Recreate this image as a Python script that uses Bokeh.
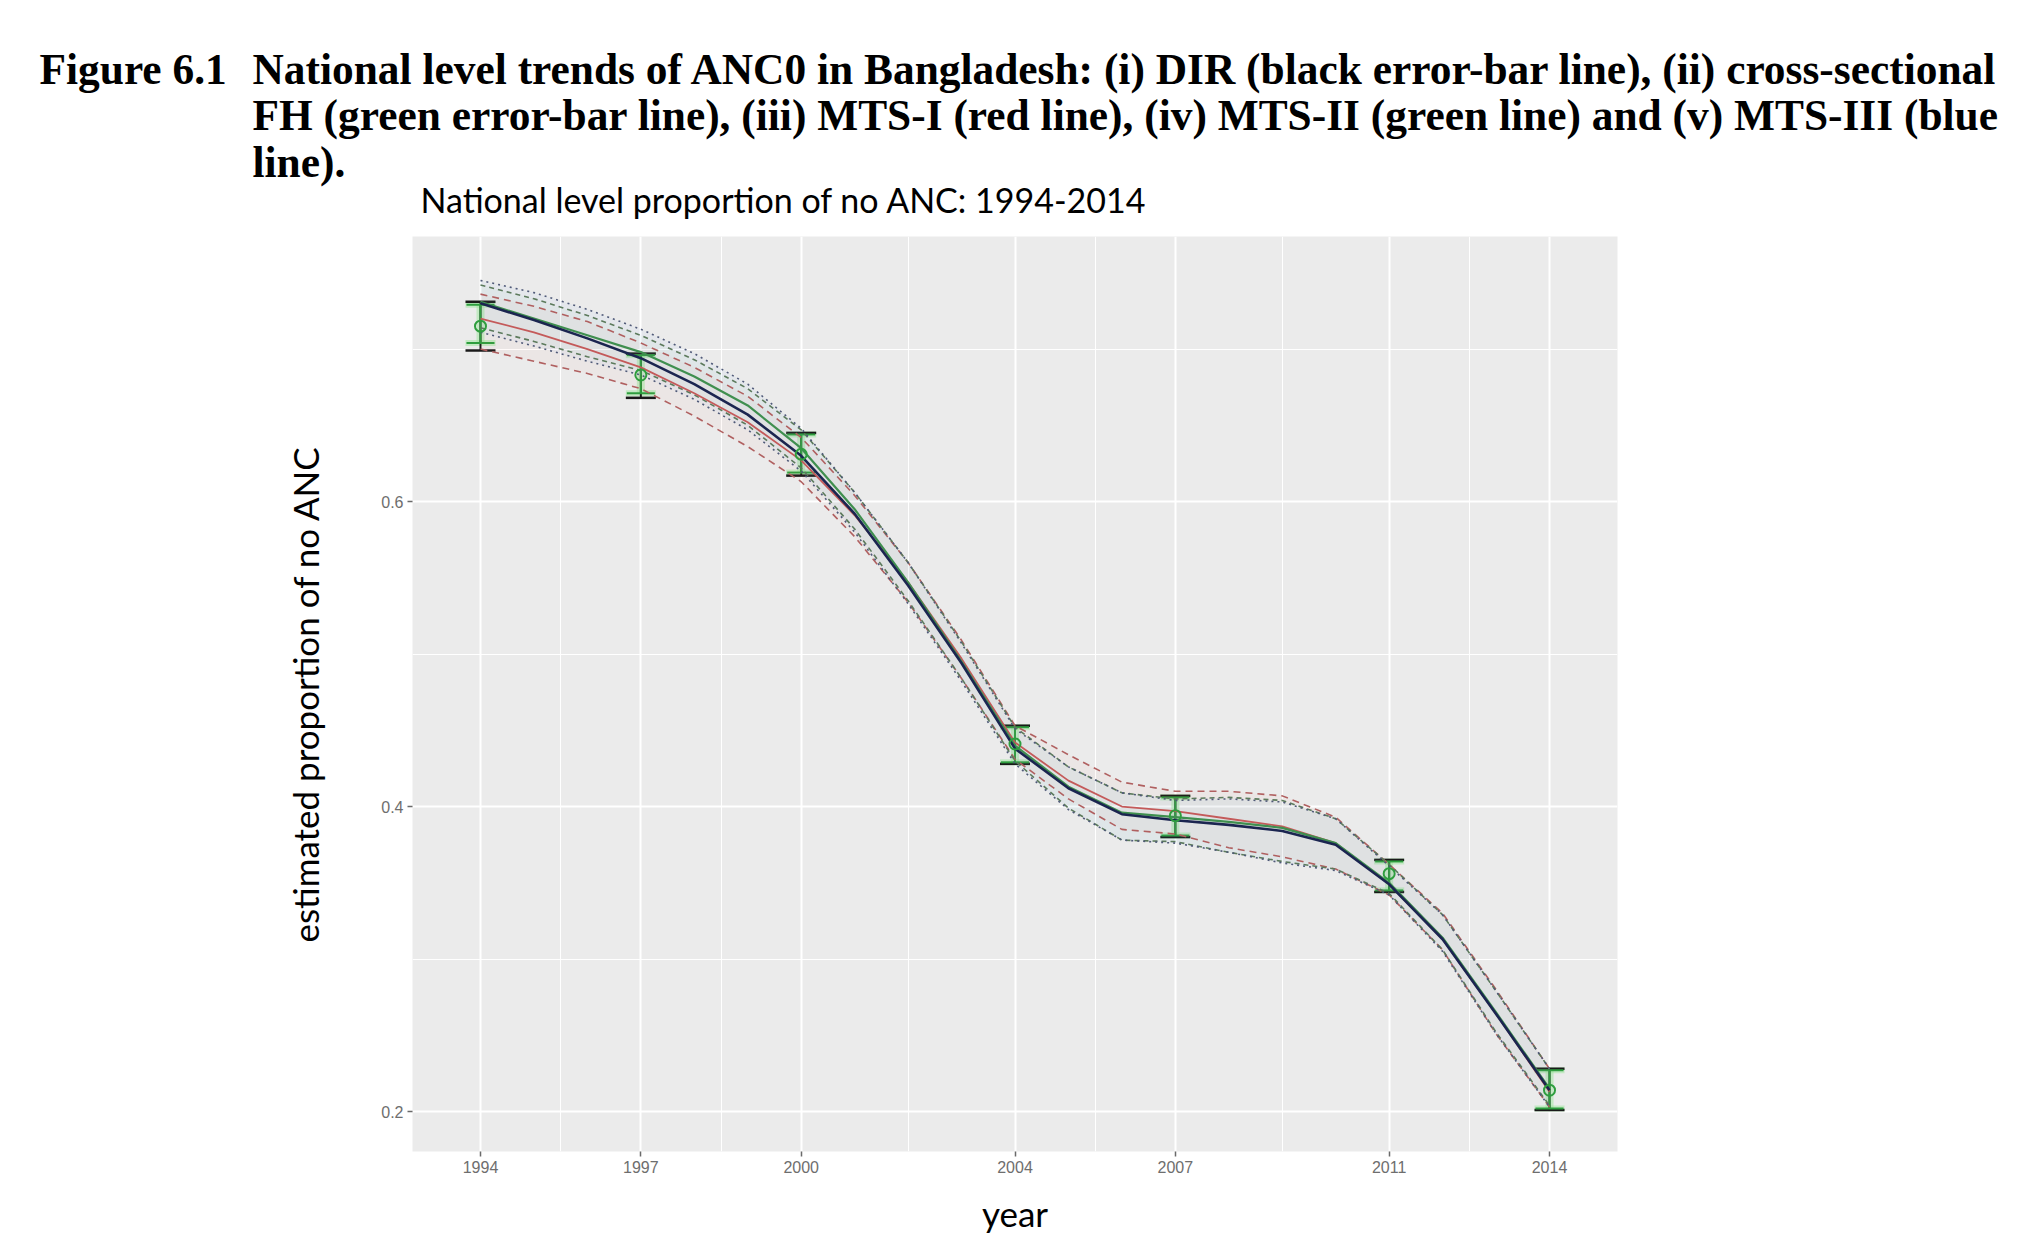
from bokeh.plotting import figure
from bokeh.layouts import column
from bokeh.models import Range1d, FixedTicker, Whisker, ColumnDataSource, Label, TeeHead
from bokeh.embed import file_html
from bokeh.resources import INLINE

# ---------------- data ----------------
years = list(range(1994, 2015))

mts1_mean = [0.720, 0.711, 0.700, 0.688, 0.671, 0.652, 0.627, 0.591, 0.547, 0.497, 0.442,
             0.417, 0.400, 0.397, 0.392, 0.387, 0.376, 0.349, 0.313, 0.264, 0.213]
mts1_lower = [0.700, 0.692, 0.684, 0.674, 0.656, 0.636, 0.613, 0.577, 0.534, 0.484, 0.431,
              0.405, 0.385, 0.382, 0.373, 0.367, 0.359, 0.342, 0.306, 0.251, 0.203]
mts1_upper = [0.736, 0.728, 0.718, 0.704, 0.688, 0.669, 0.642, 0.604, 0.560, 0.509, 0.453,
              0.434, 0.416, 0.410, 0.410, 0.407, 0.393, 0.362, 0.330, 0.280, 0.228]

mts2_mean = [0.731, 0.720, 0.709, 0.698, 0.682, 0.663, 0.635, 0.595, 0.547, 0.495, 0.440,
             0.413, 0.396, 0.393, 0.390, 0.386, 0.376, 0.350, 0.314, 0.265, 0.215]
mts2_lower = [0.714, 0.705, 0.695, 0.686, 0.670, 0.650, 0.622, 0.582, 0.535, 0.484, 0.430,
              0.399, 0.378, 0.377, 0.370, 0.364, 0.359, 0.343, 0.306, 0.252, 0.204]
mts2_upper = [0.742, 0.733, 0.722, 0.709, 0.693, 0.674, 0.647, 0.606, 0.560, 0.508, 0.452,
              0.426, 0.409, 0.405, 0.406, 0.404, 0.392, 0.362, 0.329, 0.279, 0.228]

mts3_mean = [0.730, 0.719, 0.707, 0.694, 0.677, 0.657, 0.630, 0.592, 0.545, 0.494, 0.438,
             0.412, 0.395, 0.391, 0.388, 0.384, 0.375, 0.349, 0.313, 0.264, 0.214]
mts3_lower = [0.711, 0.702, 0.692, 0.683, 0.667, 0.647, 0.620, 0.580, 0.533, 0.482, 0.428,
              0.398, 0.378, 0.376, 0.370, 0.363, 0.358, 0.342, 0.305, 0.251, 0.203]
mts3_upper = [0.745, 0.737, 0.726, 0.713, 0.697, 0.677, 0.648, 0.606, 0.560, 0.507, 0.451,
              0.426, 0.409, 0.404, 0.405, 0.403, 0.392, 0.361, 0.329, 0.279, 0.228]

survey_years = [1994, 1997, 2000, 2004, 2007, 2011, 2014]
dir_lower = [0.699, 0.668, 0.617, 0.428, 0.380, 0.344, 0.201]
dir_upper = [0.731, 0.697, 0.645, 0.453, 0.407, 0.365, 0.228]
fh_est = [0.715, 0.683, 0.631, 0.441, 0.394, 0.356, 0.214]
fh_lower = [0.704, 0.671, 0.619, 0.429, 0.381, 0.345, 0.202]
fh_upper = [0.729, 0.696, 0.644, 0.452, 0.406, 0.364, 0.227]

x_ticks = [1994, 1997, 2000, 2004, 2007, 2011, 2014]
x_minor = [1995.5, 1998.5, 2002, 2005.5, 2009, 2012.5]
y_ticks = [0.2, 0.4, 0.6]
y_minor = [0.3, 0.5, 0.7]

caption_lines = [
    "National level trends of ANC0 in Bangladesh: (i) DIR (black error-bar line), (ii) cross-sectional",
    "FH (green error-bar line), (iii) MTS-I (red line), (iv) MTS-II (green line) and (v) MTS-III (blue",
    "line).",
]
caption_label = "Figure 6.1"
subtitle = "National level proportion of no ANC: 1994-2014"
x_label = "year"
y_label = "estimated proportion of no ANC"

# ---------------- layout ----------------
W = 2024
TOP_H = 226            # header (caption + subtitle) figure height
MAIN_H = 1248 - TOP_H  # plot figure height
FL, FR = 412, 1617     # frame left / right (page px)
FT_PAGE, FB_PAGE = 236, 1151
X0, X1 = 1992.728, 2015.272
Y0, Y1 = 0.1738, 0.7738

# ---- header figure: pixel coordinates (y downward) ----
head = figure(width=W, height=TOP_H, output_backend="svg", toolbar_location=None,
              x_range=Range1d(0, W), y_range=Range1d(TOP_H, 0),
              min_border=0, x_axis_location=None, y_axis_location=None)
head.frame_align = False
head.outline_line_color = None
head.background_fill_color = "white"
head.border_fill_color = "white"
head.xgrid.visible = False
head.ygrid.visible = False
head.title.visible = False


def head_label(text, x, y, font, size, style="normal", align="left", baseline="alphabetic"):
    head.add_layout(Label(x=x, y=y, text=text, text_font=font, text_font_size=size,
                          text_font_style=style, text_color="black", text_align=align,
                          text_baseline=baseline))


head_label(caption_label, 39, 68, "Liberation Serif", "43.4px", style="bold")
for i, line in enumerate(caption_lines):
    head_label(line, 252, 68 + i * 46.5, "Liberation Serif", "43.4px", style="bold")
head_label(subtitle, 420, 199, "Lato", "34px", baseline="middle")

# ---- main plot ----
p = figure(width=W, height=MAIN_H, output_backend="svg", toolbar_location=None,
           x_range=Range1d(X0, X1), y_range=Range1d(Y0, Y1),
           min_border_left=FL, min_border_right=W - FR,
           min_border_top=FT_PAGE - TOP_H, min_border_bottom=1248 - FB_PAGE)
p.frame_align = False
p.title.visible = False
p.background_fill_color = "#ebebeb"
p.border_fill_color = "white"
p.outline_line_color = None

p.xaxis.ticker = FixedTicker(ticks=x_ticks, minor_ticks=x_minor)
p.yaxis.ticker = FixedTicker(ticks=y_ticks, minor_ticks=y_minor)
for ax in (p.xaxis, p.yaxis):
    ax.axis_line_color = None
    ax.major_tick_line_color = "#6a6a6a"
    ax.major_tick_line_width = 1.5
    ax.major_tick_out = 5
    ax.major_tick_in = 0
    ax.minor_tick_line_color = None
    ax.major_label_text_font = "Liberation Sans"
    ax.major_label_text_font_size = "16px"
    ax.major_label_text_color = "#6e6e6e"
    ax.major_label_standoff = 4
    ax.axis_label_text_font = "Lato"
    ax.axis_label_text_font_size = "35px"
    ax.axis_label_text_font_style = "normal"
    ax.axis_label_text_color = "black"

p.xaxis.axis_label = x_label
p.xaxis.axis_label_standoff = 16
p.yaxis.axis_label = y_label
p.yaxis.axis_label_standoff = 52

for g in (p.xgrid, p.ygrid):
    g.grid_line_color = "white"
    g.grid_line_width = 2
    g.minor_grid_line_color = "white"
    g.minor_grid_line_width = 1

# ribbons (very faint)
p.varea(x=years, y1=mts1_lower, y2=mts1_upper, fill_color="#f8766d", fill_alpha=0.04)
p.varea(x=years, y1=mts2_lower, y2=mts2_upper, fill_color="#00ba38", fill_alpha=0.02)
p.varea(x=years, y1=mts3_lower, y2=mts3_upper, fill_color="#619cff", fill_alpha=0.05)

# confidence lines
ci_style = [
    (mts1_lower, mts1_upper, "#b06060", "7 5"),
    (mts2_lower, mts2_upper, "#5c7a5c", "5 4"),
    (mts3_lower, mts3_upper, "#505a78", "2 4"),
]
for lo, hi, col, dash in ci_style:
    p.line(years, lo, line_color=col, line_width=1.6, line_dash=dash)
    p.line(years, hi, line_color=col, line_width=1.6, line_dash=dash)

# error bars: DIR (black) and FH (green)
dir_src = ColumnDataSource(dict(x=survey_years, lo=dir_lower, hi=dir_upper))
fh_src = ColumnDataSource(dict(x=survey_years, lo=fh_lower, hi=fh_upper, est=fh_est))

glow = Whisker(source=fh_src, base="x", lower="lo", upper="hi", dimension="height",
               line_color="#9be89b", line_alpha=0.5, line_width=8,
               upper_head=TeeHead(size=30, line_color="#9be89b", line_alpha=0.5, line_width=6),
               lower_head=TeeHead(size=30, line_color="#9be89b", line_alpha=0.5, line_width=6))
p.add_layout(glow)

dir_w = Whisker(source=dir_src, base="x", lower="lo", upper="hi", dimension="height",
                line_color="#1a1a1a", line_width=2,
                upper_head=TeeHead(size=30, line_color="#1a1a1a", line_width=2.5),
                lower_head=TeeHead(size=30, line_color="#1a1a1a", line_width=2.5))
p.add_layout(dir_w)

fh_w = Whisker(source=fh_src, base="x", lower="lo", upper="hi", dimension="height",
               line_color="#2e9e3e", line_width=2,
               upper_head=TeeHead(size=28, line_color="#2e9e3e", line_width=2),
               lower_head=TeeHead(size=28, line_color="#2e9e3e", line_width=2))
p.add_layout(fh_w)

# model means
p.line(years, mts1_mean, line_color="#c45a5a", line_width=1.8)
p.line(years, mts2_mean, line_color="#3f8f4f", line_width=2.2)
p.line(years, mts3_mean, line_color="#1b2550", line_width=2.6)

# FH point estimates
p.scatter(x="x", y="est", source=fh_src, marker="circle", size=11,
          fill_color=None, line_color="#2e9e3e", line_width=2)

layout = column(head, p, spacing=0)
open("out.html", "w").write(file_html(layout, INLINE))
